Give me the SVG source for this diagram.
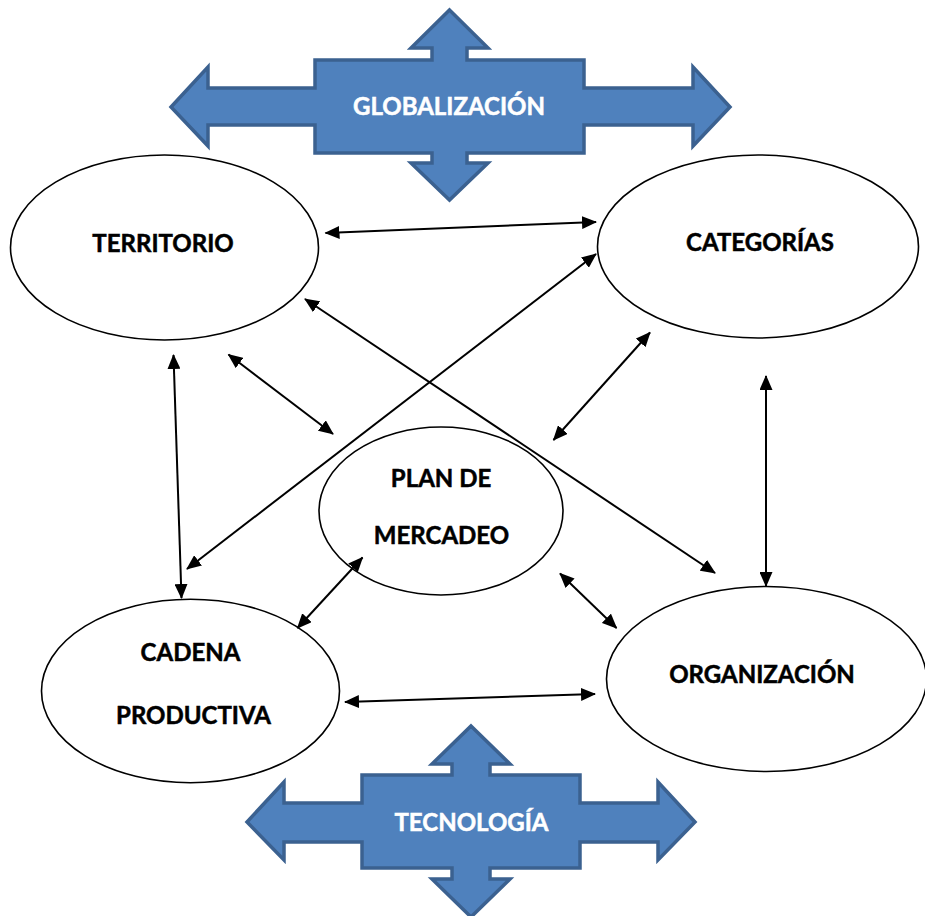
<svg xmlns="http://www.w3.org/2000/svg" width="925" height="916" viewBox="0 0 925 916">
<defs>
<style>
.node ellipse{fill:#fff;stroke:#000;stroke-width:1.6}
.lbl{font-family:Lato,"Liberation Sans",sans-serif;font-weight:bold;font-size:24px;fill:#000;stroke:#000;stroke-width:0.5;text-anchor:middle}
.blk polygon{fill:#4F81BD;stroke:#3B6190;stroke-width:3.5;stroke-linejoin:miter}
.blk text{font-family:Lato,"Liberation Sans",sans-serif;font-weight:bold;font-size:24px;fill:#fff;stroke:#fff;stroke-width:0.5;text-anchor:middle}
.conn line{stroke:#000;stroke-width:2;marker-start:url(#ah);marker-end:url(#ah)}
</style>
<marker id="ah" markerUnits="userSpaceOnUse" markerWidth="15" markerHeight="13" refX="14" refY="6.5" orient="auto-start-reverse" viewBox="0 0 15 13">
<path d="M0,0 L15,6.5 L0,13 z" fill="#000"/>
</marker>
</defs>
<rect width="925" height="916" fill="#fff"/>

<g id="globalizacion" class="blk">
<polygon points="449.5,10 488,48 467,48 467,60 584,60 584,88 693,88 693,67 730,107 693,146 693,125 584,125 584,153 467,153 467,163 488,163 449.5,200 411,163 432,163 432,153 315,153 315,125 208,125 208,146 171,107 208,67 208,88 315,88 315,60 432,60 432,48 411,48"/>
<text x="449" y="115">GLOBALIZACIÓN</text>
</g>

<g id="tecnologia" class="blk">
<polygon points="471,726 510,764 490,764 490,775 580,775 580,803 658,803 658,782 695,822 658,860 658,842 580,842 580,868 490,868 490,879 510,879 471,917 432,879 452,879 452,868 362,868 362,842 284,842 284,860 247,822 284,782 284,803 362,803 362,775 452,775 452,764 432,764"/>
<text x="471.5" y="831">TECNOLOGÍA</text>
</g>

<g id="territorio" class="node">
<ellipse cx="164.5" cy="247.5" rx="154" ry="92.5"/>
<text class="lbl" x="163" y="251.5">TERRITORIO</text>
</g>

<g id="categorias" class="node">
<ellipse cx="758" cy="246.5" rx="160.5" ry="91.5"/>
<text class="lbl" x="760" y="250.5">CATEGORÍAS</text>
</g>

<g id="plan" class="node">
<ellipse cx="441" cy="511" rx="122" ry="84"/>
<text class="lbl" x="441" y="486.5">PLAN DE</text>
<text class="lbl" x="441.5" y="544">MERCADEO</text>
</g>

<g id="cadena" class="node">
<ellipse cx="190.5" cy="691" rx="149" ry="91.7"/>
<text class="lbl" x="190.5" y="661">CADENA</text>
<text class="lbl" x="193.5" y="724">PRODUCTIVA</text>
</g>

<g id="organizacion" class="node">
<ellipse cx="766.5" cy="679" rx="160" ry="92.5"/>
<text class="lbl" x="762" y="683">ORGANIZACIÓN</text>
</g>

<g id="connectors" class="conn">
<line x1="325.5" y1="233" x2="596" y2="222"/>
<line x1="305" y1="299" x2="715" y2="573"/>
<line x1="596" y1="254" x2="187" y2="569"/>
<line x1="173.5" y1="355" x2="181.5" y2="598"/>
<line x1="228.5" y1="354.5" x2="333" y2="434"/>
<line x1="650" y1="332.5" x2="553.5" y2="440"/>
<line x1="766" y1="376" x2="766" y2="586"/>
<line x1="362.5" y1="557.5" x2="297.5" y2="628"/>
<line x1="560" y1="573.5" x2="616.5" y2="628"/>
<line x1="345" y1="702" x2="595" y2="694"/>
</g>
</svg>
